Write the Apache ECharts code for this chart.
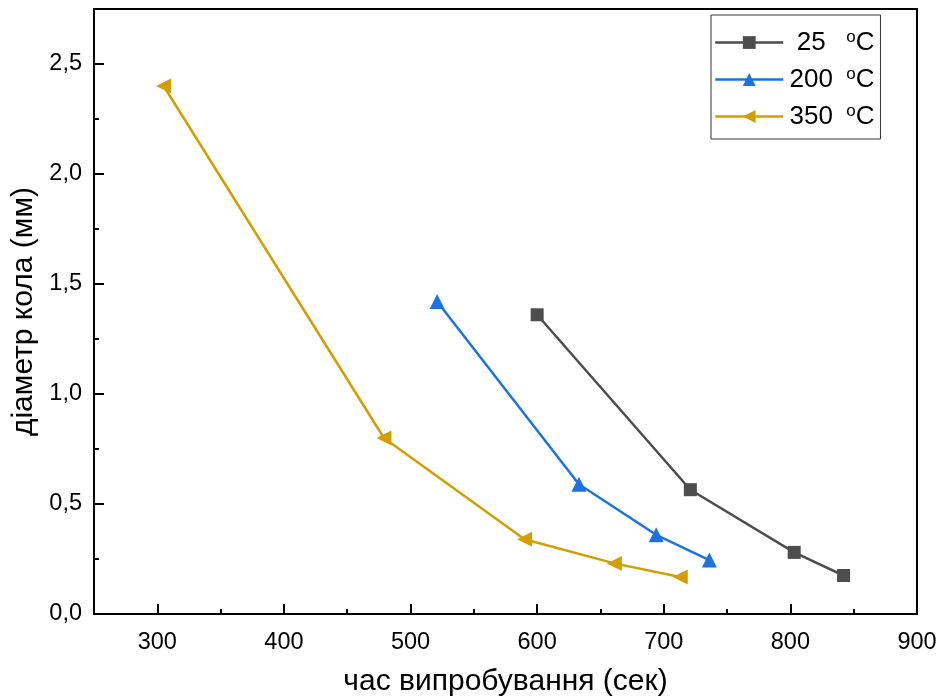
<!DOCTYPE html>
<html>
<head>
<meta charset="utf-8">
<script src="https://cdn.jsdelivr.net/npm/echarts@6/dist/echarts.min.js"></script>
<style>
  html, body { margin: 0; padding: 0; background: #fff; }
  #chart { width: 941px; height: 700px; }
</style>
</head>
<body>
<div id="chart"></div>
<script>
// values
const time25 = [600, 721, 803, 842]
const diam25 = [1.36, 0.565, 0.28, 0.175]
const time200 = [521, 633, 694, 736]
const diam200 = [1.42, 0.59, 0.36, 0.245]
const time350 = [305, 479, 590, 661, 713]
const diam350 = [2.4, 0.8, 0.34, 0.23, 0.168]

const seriesNames = ['25', '200', '350']

const xTicks = [300, 400, 500, 600, 700, 800, 900]
const xMinorTicks = [250, 350, 450, 550, 650, 750, 850]
const yTicks = [0, 0.5, 1.0, 1.5, 2.0, 2.5]
const yMinorTicks = [0.25, 0.75, 1.25, 1.75, 2.25]

const font = '"Liberation Sans", Arial, sans-serif'
const colors = ['#4d4d4d', '#1c73e0', '#d39f00']

const chart = echarts.init(document.getElementById('chart'))

function pairs(xs, ys) {
  return xs.map((x, i) => [x, ys[i]])
}

function lineSeries(name, data, color, symbol, size, rotate) {
  return {
    name,
    type: 'line',
    data,
    symbol,
    symbolSize: size,
    symbolRotate: rotate,
    lineStyle: { color, width: 2.5 },
    itemStyle: { color },
    emphasis: { disabled: true },
  }
}

const majorTick = (values) => ({ show: true, inside: true, length: 10, customValues: values, lineStyle: { color: '#000', width: 2 } })
const minorTick = (values) => ({ show: true, inside: true, length: 5, customValues: values, lineStyle: { color: '#000', width: 2 } })

chart.setOption({
  animation: false,
  textStyle: { fontFamily: font },
  grid: {
    left: 94, right: 24, top: 9, bottom: 86,
    containLabel: false,
    outerBoundsMode: 'none',
    show: true, borderColor: '#000', borderWidth: 2,
  },
  legend: {
    orient: 'vertical',
    left: 711,
    top: 15,
    padding: [14, 6, 9, 3],
    itemWidth: 68,
    itemHeight: 16,
    itemGap: 10,
    borderColor: '#333',
    borderWidth: 1,
    backgroundColor: '#fff',
    lineStyle: { width: 2.5 },
    data: seriesNames,
    formatter: (name) => `{n|${name}}{s|o}{c|C}`,
    textStyle: {
      color: '#000',
      rich: {
        n: { fontSize: 26, width: 46, align: 'right', lineHeight: 28, fontFamily: font },
        s: { fontSize: 17, padding: [0, 0, 10, 12], lineHeight: 28, fontFamily: font },
        c: { fontSize: 26, lineHeight: 28, fontFamily: font },
      },
    },
  },
  xAxis: [
    {
      type: 'value',
      min: 250,
      max: 900,
      name: 'час випробування (сек)',
      nameLocation: 'middle',
      nameGap: 53,
      nameTextStyle: { fontSize: 30, color: '#000' },
      axisLine: { lineStyle: { color: '#000', width: 2 } },
      axisTick: majorTick(xTicks),
      axisLabel: { customValues: xTicks, fontSize: 23.5, color: '#000', margin: 17 },
      splitLine: { show: false },
    },
    {
      type: 'value',
      position: 'bottom',
      min: 250,
      max: 900,
      axisLine: { show: false },
      axisTick: minorTick(xMinorTicks),
      axisLabel: { show: false },
      splitLine: { show: false },
    },
  ],
  yAxis: [
    {
      type: 'value',
      min: 0,
      max: 2.75,
      name: 'діаметр кола (мм)',
      nameLocation: 'middle',
      nameGap: 47,
      nameTextStyle: { fontSize: 30, color: '#000' },
      axisLine: { lineStyle: { color: '#000', width: 2 } },
      axisTick: majorTick(yTicks),
      axisLabel: {
        customValues: yTicks,
        fontSize: 23.5,
        color: '#000',
        margin: 12,
        formatter: (v) => v.toFixed(1).replace('.', ','),
      },
      splitLine: { show: false },
    },
    {
      type: 'value',
      position: 'left',
      min: 0,
      max: 2.75,
      axisLine: { show: false },
      axisTick: minorTick(yMinorTicks),
      axisLabel: { show: false },
      splitLine: { show: false },
    },
  ],
  series: [
    lineSeries(seriesNames[0], pairs(time25, diam25), colors[0], 'rect', 13, 0),
    lineSeries(seriesNames[1], pairs(time200, diam200), colors[1], 'triangle', 15, 0),
    lineSeries(seriesNames[2], pairs(time350, diam350), colors[2], 'triangle', 15, 90),
  ],
})

window.addEventListener('resize', () => chart.resize())
</script>
</body>
</html>
